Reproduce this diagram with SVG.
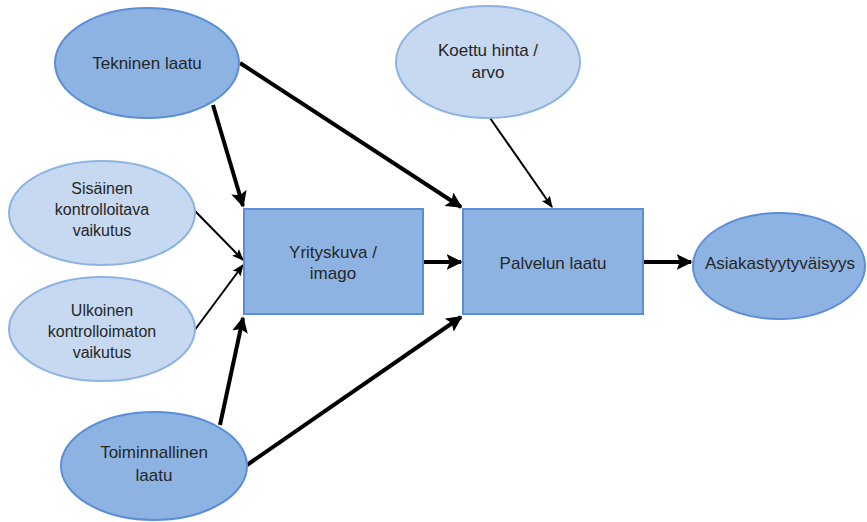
<svg xmlns="http://www.w3.org/2000/svg" width="867" height="522" viewBox="0 0 867 522">
<style>
.dark{fill:#8DB3E2;stroke:#5B8ED6;stroke-width:2}
.light{fill:#C6D9F1;stroke:#8DB3E2;stroke-width:2}
.t{font-family:"Liberation Sans",Arial,sans-serif;font-size:17px;fill:#262626;text-anchor:middle}
.s{font-size:16px}
.thick{stroke:#000;stroke-width:4;fill:none;marker-end:url(#ah)}
.thin{stroke:#000;stroke-width:2;fill:none;marker-end:url(#at)}
</style>
<defs>
<marker id="ah" viewBox="0 0 10 10" refX="9" refY="5" markerWidth="4" markerHeight="4" orient="auto"><path d="M0,0 L10,5 L0,10 L2,5 z" fill="#000"/></marker>
<marker id="at" viewBox="0 0 10 10" refX="9" refY="5" markerWidth="6" markerHeight="6" orient="auto"><path d="M0,1 L10,5 L0,9 L2,5 z" fill="#000"/></marker>
</defs>
<g id="connectors">
<line class="thick" x1="213" y1="105" x2="243" y2="206"/>
<line class="thick" x1="240" y1="63" x2="461" y2="207"/>
<line class="thin" x1="194" y1="210" x2="243" y2="260"/>
<line class="thin" x1="194" y1="331" x2="243" y2="265"/>
<line class="thick" x1="220" y1="425" x2="243" y2="318"/>
<line class="thick" x1="247" y1="465" x2="461" y2="317"/>
<line class="thin" x1="490" y1="118" x2="552" y2="207"/>
<line class="thick" x1="424" y1="262" x2="461" y2="262"/>
<line class="thick" x1="644" y1="262" x2="691" y2="262"/>
</g>
<g id="tekninen"><ellipse class="dark" cx="147" cy="63" rx="92" ry="55"/><text class="t" x="147" y="69">Tekninen laatu</text></g>
<g id="sisainen"><ellipse class="light" cx="102" cy="213" rx="93" ry="52"/><text class="t s" x="102" y="194">Sisäinen</text><text class="t s" x="102" y="215">kontrolloitava</text><text class="t s" x="102" y="236">vaikutus</text></g>
<g id="ulkoinen"><ellipse class="light" cx="102" cy="329" rx="93" ry="52"/><text class="t s" x="102" y="316">Ulkoinen</text><text class="t s" x="102" y="337">kontrolloimaton</text><text class="t s" x="102" y="358">vaikutus</text></g>
<g id="toiminnallinen"><ellipse class="dark" cx="154" cy="466" rx="93" ry="54"/><text class="t" x="154" y="458">Toiminnallinen</text><text class="t" x="154" y="481">laatu</text></g>
<g id="koettu"><ellipse class="light" cx="488" cy="62" rx="92" ry="56"/><text class="t" x="488" y="56">Koettu hinta /</text><text class="t" x="488" y="78">arvo</text></g>
<g id="yrityskuva"><rect class="dark" x="244" y="209" width="179" height="105"/><text class="t" x="333" y="258">Yrityskuva /</text><text class="t" x="333" y="279">imago</text></g>
<g id="palvelun"><rect class="dark" x="463" y="209" width="180" height="105"/><text class="t" x="553" y="269">Palvelun laatu</text></g>
<g id="asiakas"><ellipse class="dark" cx="779" cy="266" rx="86" ry="53"/><text class="t" x="780" y="269">Asiakastyytyväisyys</text></g>
</svg>
